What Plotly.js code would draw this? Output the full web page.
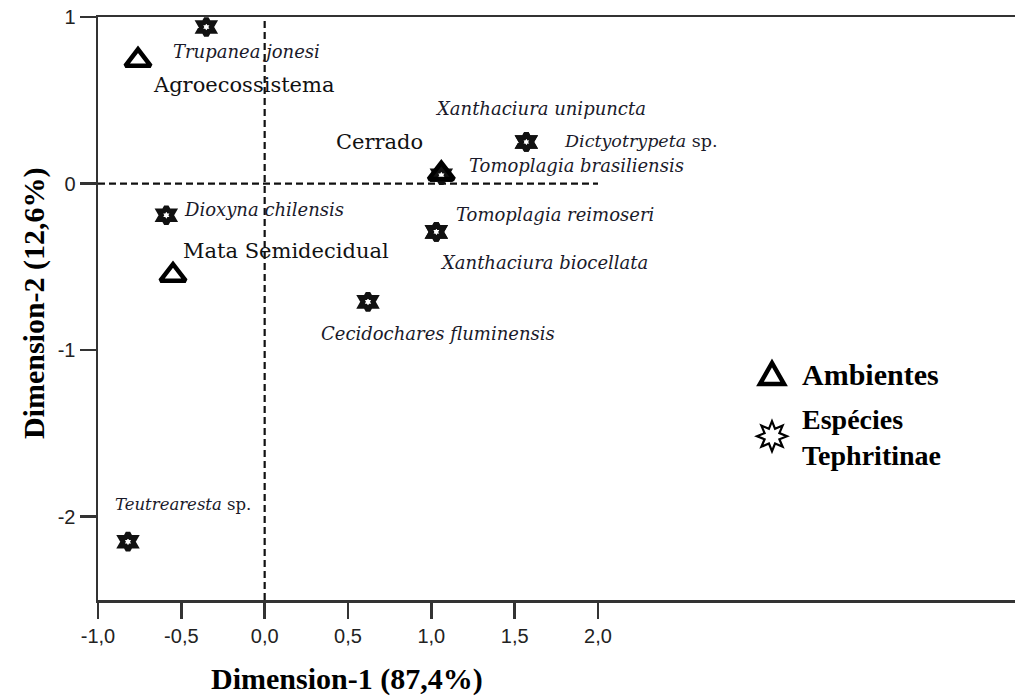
<!DOCTYPE html>
<html>
<head>
<meta charset="utf-8">
<script src="https://cdn.plot.ly/plotly-3.0.1.min.js"></script>
<style>html,body{margin:0;padding:0;background:#fff;}#chart{width:1015px;height:697px;}</style>
</head>
<body>
<div id="chart"></div>
<script>
// ---- data ----
const envNames = ['Agroecossistema', 'Cerrado', 'Mata Semidecidual'];
const envDim1 = [-0.76, 1.06, -0.55];
const envDim2 = [0.74, 0.06, -0.55];

const spNames = ['Trupanea jonesi', 'Xanthaciura unipuncta', 'Dictyotrypeta sp.', 'Tomoplagia brasiliensis',
  'Dioxyna chilensis', 'Tomoplagia reimoseri', 'Xanthaciura biocellata', 'Cecidochares fluminensis', 'Teutrearesta sp.'];
const spDim1 = [-0.35, 1.57, 1.57, 1.06, -0.59, 1.03, 1.03, 0.62, -0.82];
const spDim2 = [0.94, 0.25, 0.25, 0.05, -0.19, -0.29, -0.29, -0.71, -2.15];

const xTickVals = [-1, -0.5, 0, 0.5, 1, 1.5, 2];
const xTickText = ['-1,0', '-0,5', '0,0', '0,5', '1,0', '1,5', '2,0'];
const yTickVals = [-2, -1, 0, 1];
const yTickText = ['-2', '-1', '0', '1'];

const legendNames = ['Ambientes', 'Espécies<br>Tephritinae'];
const xTitle = 'Dimension-1 (87,4%)';
const yTitle = 'Dimension-2 (12,6%)';

// ---- label placement (pixel offsets from each point) ----
const envLabelStyle = [[13, -25, 'left'], [-16, 32, 'right'], [8, 24, 'left']];
const spLabelStyle = [[-35, -25], [-93, 33], [36, 1], [26, 10], [16, 6], [18, 17], [2, -31], [-49, -32], [-15, 37]];
const spLabelSize = [18, 18, 17.5, 18, 18, 18, 18, 18, 16.5];

function spLabel(n) {
  if (n.endsWith(' sp.')) return '<i>' + n.slice(0, -4) + '</i> sp.';
  return '<i>' + n + '</i>';
}

const traces = [
  {
    x: spDim1, y: spDim2, type: 'scatter', mode: 'markers', name: 'Espécies Tephritinae',
    marker: {symbol: 'hexagram-open', size: 13, color: '#111', line: {width: 5, color: '#111'}},
    showlegend: false, hoverinfo: 'text', text: spNames
  },
  {
    x: envDim1, y: envDim2, type: 'scatter', mode: 'markers', name: 'Ambientes',
    marker: {symbol: 'triangle-up-open', size: 22, color: '#000', line: {width: 4.5, color: '#000'}},
    showlegend: false, hoverinfo: 'text', text: envNames
  }
];

const annotations = [];
envNames.forEach((n, i) => {
  annotations.push({
    x: envDim1[i], y: envDim2[i], xref: 'x', yref: 'y', text: n, showarrow: false,
    xanchor: envLabelStyle[i][2], yanchor: 'middle', xshift: envLabelStyle[i][0], yshift: envLabelStyle[i][1],
    font: {family: 'DejaVu Serif', size: 21, color: '#111'}
  });
});
spNames.forEach((n, i) => {
  annotations.push({
    x: spDim1[i], y: spDim2[i], xref: 'x', yref: 'y', text: spLabel(n), showarrow: false,
    xanchor: 'left', yanchor: 'middle', xshift: spLabelStyle[i][0], yshift: spLabelStyle[i][1],
    font: {family: 'DejaVu Serif', size: spLabelSize[i], color: '#1a1a2a'}
  });
});
// axis titles
annotations.push({
  xref: 'paper', yref: 'paper', x: 0.2715, y: -0.1355, text: '<b>' + xTitle + '</b>', showarrow: false,
  xanchor: 'center', yanchor: 'middle', font: {family: 'Liberation Serif', size: 30, color: '#000'}
});
annotations.push({
  xref: 'paper', yref: 'paper', x: -0.07, y: 0.509, text: '<b>' + yTitle + '</b>', showarrow: false,
  textangle: -90, xanchor: 'center', yanchor: 'middle', font: {family: 'Liberation Serif', size: 30, color: '#000'}
});
// legend texts
annotations.push({xref: 'paper', yref: 'paper', x: 0.7655, y: 0.386, text: '<b>' + legendNames[0] + '</b>',
  showarrow: false, xanchor: 'left', yanchor: 'middle', font: {family: 'Liberation Serif', size: 30, color: '#000'}});
annotations.push({xref: 'paper', yref: 'paper', x: 0.7655, y: 0.279, text: '<b>' + legendNames[1] + '</b>',
  showarrow: false, xanchor: 'left', yanchor: 'middle', align: 'left',
  font: {family: 'Liberation Serif', size: 28, color: '#000'}});

// legend star path
let starPath = '';
for (let k = 0; k < 16; k++) {
  const r = (k % 2 === 0) ? 15 : 8;
  const a = Math.PI / 2 + k * Math.PI / 8;
  starPath += (k === 0 ? 'M ' : ' L ') + (r * Math.cos(a)).toFixed(2) + ',' + (r * Math.sin(a)).toFixed(2);
}
starPath += ' Z';

const shapes = [
  {type: 'line', xref: 'x', yref: 'paper', x0: 0, x1: 0, y0: 0, y1: 1,
   line: {color: '#111', width: 2.2, dash: '7px,4px'}, layer: 'below'},
  {type: 'line', xref: 'x', yref: 'y', x0: -1, x1: 2, y0: 0, y1: 0,
   line: {color: '#111', width: 2.2, dash: '7px,4px'}, layer: 'below'},
  {type: 'path', xref: 'paper', yref: 'paper', xsizemode: 'pixel', ysizemode: 'pixel',
   xanchor: 0.735, yanchor: 0.386, path: 'M -12,-9 L 12,-9 L 0,12 Z',
   line: {color: '#000', width: 4.5}, fillcolor: 'rgba(0,0,0,0)'},
  {type: 'path', xref: 'paper', yref: 'paper', xsizemode: 'pixel', ysizemode: 'pixel',
   xanchor: 0.735, yanchor: 0.281, path: starPath,
   line: {color: '#000', width: 2.2}, fillcolor: '#fff'}
];

const axisCommon = {
  showgrid: false, zeroline: false, showline: true, linecolor: '#333', linewidth: 2.5,
  ticks: 'outside', ticklen: 16, tickwidth: 2.5, tickcolor: '#333',
  tickfont: {family: 'Liberation Sans', size: 20, color: '#222'}, tickmode: 'array'
};

const layout = {
  width: 1015, height: 697,
  margin: {l: 98, r: 0, t: 17, b: 97, pad: 0},
  paper_bgcolor: '#fff', plot_bgcolor: '#fff',
  showlegend: false,
  xaxis: Object.assign({}, axisCommon, {range: [-1, 4.502], tickvals: xTickVals, ticktext: xTickText, mirror: true}),
  yaxis: Object.assign({}, axisCommon, {range: [-2.5, 1.0], tickvals: yTickVals, ticktext: yTickText}),
  annotations: annotations,
  shapes: shapes
};

Plotly.newPlot('chart', traces, layout, {displayModeBar: false, staticPlot: true});
</script>
</body>
</html>
